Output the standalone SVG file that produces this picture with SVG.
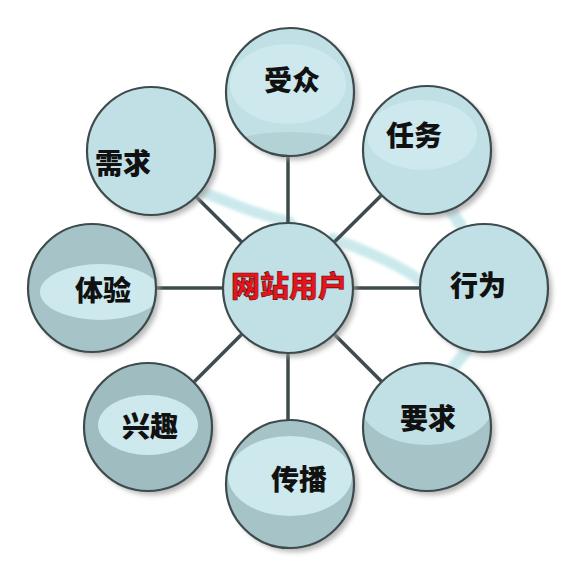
<svg xmlns="http://www.w3.org/2000/svg" width="587" height="573" viewBox="0 0 587 573">
<defs>
<filter id="sh" x="-20%" y="-20%" width="150%" height="150%"><feGaussianBlur stdDeviation="2.5"/></filter>
<filter id="soft" x="-20%" y="-20%" width="140%" height="140%"><feGaussianBlur stdDeviation="1.5"/></filter>
<clipPath id="cc"><circle cx="0" cy="0" r="64"/></clipPath>
<style>
.bg{fill:#ffffff}
.shadow{fill:#9a9a9a;opacity:.7;filter:url(#sh)}
.base{fill:#c0e0e5}
.dark{fill:#a6c4c8}
.hl{fill:#cde9ed}
.ring{fill:none;stroke:#3e4b4d;stroke-width:2.2}
.conn line{stroke:#3e4a4c;stroke-width:3.5}
.rib path{fill:none;stroke:#c2e6e9;stroke-linecap:round;opacity:.85;filter:url(#soft)}
.lbl{font-family:"Noto Sans CJK SC","Noto Sans CJK JP",sans-serif;font-weight:900;font-size:28px;fill:#111;text-anchor:middle;dominant-baseline:central}
.main{font-family:"Noto Sans CJK SC","Noto Sans CJK JP",sans-serif;font-weight:900;font-size:29px;fill:#e8141c;text-anchor:middle;dominant-baseline:central;stroke:#5a0a0a;stroke-width:.6}
</style>
</defs>
<rect class="bg" width="587" height="573"/>
<g class="rib">
<path d="M198,190 C228,202 255,214 290,222" stroke-width="11"/>
<path d="M333,238 C362,250 395,262 421,281" stroke-width="11"/>
<path d="M447,204 L463,229" stroke-width="12"/>
<path d="M469,348 L450,371" stroke-width="12"/>
</g>
<g class="conn">
<line x1="288" y1="288" x2="288" y2="92"/>
<line x1="288" y1="288" x2="427" y2="150"/>
<line x1="288" y1="288" x2="484" y2="288"/>
<line x1="288" y1="288" x2="427" y2="427"/>
<line x1="288" y1="288" x2="288" y2="484"/>
<line x1="288" y1="288" x2="149" y2="427"/>
<line x1="288" y1="288" x2="92" y2="288"/>
<line x1="288" y1="288" x2="150" y2="151"/>
</g>
<g id="n-shouzhong" transform="translate(290,92)">
<circle class="shadow" cx="4" cy="4" r="64"/>
<g clip-path="url(#cc)"><circle class="base" r="64"/><ellipse cx="0" cy="60" rx="70" ry="20" style="fill:#b3d2d6"/><ellipse class="hl" cx="-2" cy="-8" rx="58" ry="40"/></g>
<circle class="ring" r="64"/>
<text class="lbl" x="2" y="-13">受众</text>
</g>
<g id="n-renwu" transform="translate(427,150)">
<circle class="shadow" cx="4" cy="4" r="64"/>
<g clip-path="url(#cc)"><circle class="base" r="64"/><ellipse class="hl" cx="-5" cy="-15" rx="55" ry="35"/></g>
<circle class="ring" r="64"/>
<text class="lbl" x="-13" y="-16">任务</text>
</g>
<g id="n-xingwei" transform="translate(484,288)">
<circle class="shadow" cx="4" cy="4" r="64"/>
<g clip-path="url(#cc)"><circle class="base" r="64"/></g>
<circle class="ring" r="64"/>
<text class="lbl" x="-6" y="-4">行为</text>
</g>
<g id="n-yaoqiu" transform="translate(427,427)">
<circle class="shadow" cx="4" cy="4" r="64"/>
<g clip-path="url(#cc)"><circle class="dark" r="64"/><ellipse class="base" cx="0" cy="-22" rx="66" ry="40"/></g>
<circle class="ring" r="64"/>
<text class="lbl" x="1" y="-10">要求</text>
</g>
<g id="n-chuanbo" transform="translate(290,484)">
<circle class="shadow" cx="4" cy="4" r="64"/>
<g clip-path="url(#cc)"><circle class="dark" r="64"/><ellipse class="hl" cx="0" cy="-8" rx="62" ry="40"/></g>
<circle class="ring" r="64"/>
<text class="lbl" x="9" y="-6">传播</text>
</g>
<g id="n-xingqu" transform="translate(148,427)">
<circle class="shadow" cx="4" cy="4" r="64"/>
<g clip-path="url(#cc)"><circle class="dark" r="64" style="fill:#9fbcc0"/><ellipse class="hl" cx="0" cy="-2" rx="50" ry="30"/></g>
<circle class="ring" r="64"/>
<text class="lbl" x="2" y="-2">兴趣</text>
</g>
<g id="n-tiyan" transform="translate(92,288)">
<circle class="shadow" cx="4" cy="4" r="64"/>
<g clip-path="url(#cc)"><circle class="dark" r="64"/><ellipse class="hl" cx="8" cy="4" rx="60" ry="28"/></g>
<circle class="ring" r="64"/>
<text class="lbl" x="11" y="1">体验</text>
</g>
<g id="n-xuqiu" transform="translate(151,151)">
<circle class="shadow" cx="4" cy="4" r="64"/>
<g clip-path="url(#cc)"><circle class="base" r="64"/></g>
<circle class="ring" r="64"/>
<text class="lbl" x="-28" y="11">需求</text>
</g>
<g id="n-center" transform="translate(288,288)">
<circle class="shadow" cx="4" cy="4" r="65"/>
<circle class="base" r="65"/>
<circle class="ring" r="65"/>
<text class="main" x="1" y="-4">网站用户</text>
</g>
</svg>
